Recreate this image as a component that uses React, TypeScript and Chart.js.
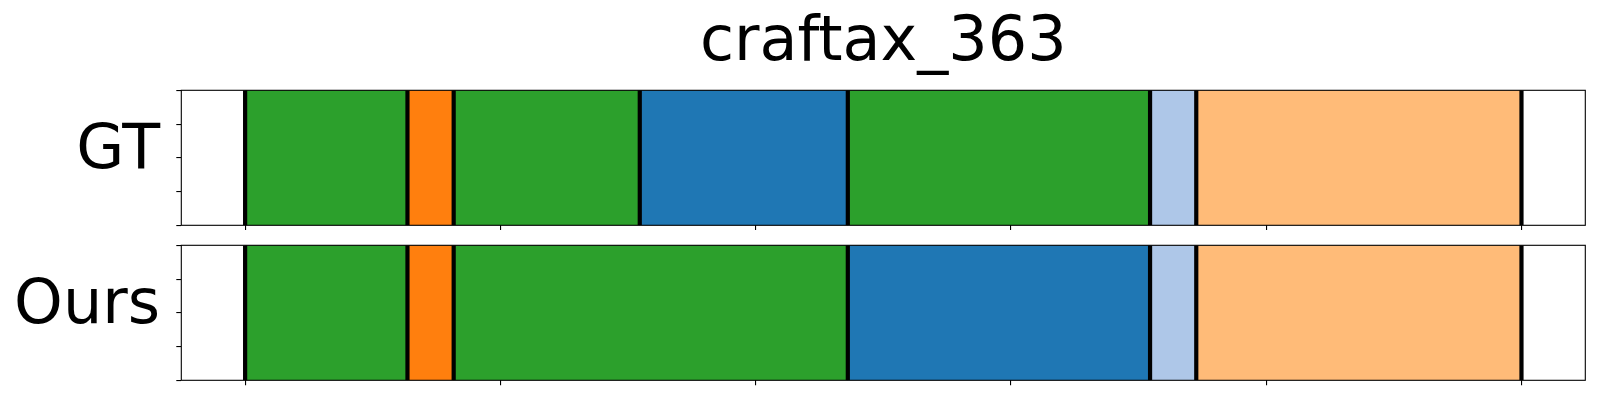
import React, { useEffect, useRef } from 'react';
import { Chart, registerables } from 'chart.js';

Chart.register(...registerables);

// ---- data ----
const TITLE = 'craftax_363';
const ROW_LABELS = ['GT', 'Ours'];
const X_MAX = 500;
const X_TICKS = [0, 100, 200, 300, 400, 500];
const Y_TICKS = [0, 1, 2, 3, 4];

// tab20 palette, indexed by class id
const PALETTE = ['#1f77b4', '#aec7e8', '#ff7f0e', '#ffbb78', '#2ca02c'];

const GT_STARTS = [0, 63.6, 81.7, 154.6, 236.1, 354.5, 372.6];
const GT_ENDS = [63.6, 81.7, 154.6, 236.1, 354.5, 372.6, 500];
const GT_CLASSES = [4, 2, 4, 0, 4, 1, 3];

const OURS_STARTS = [0, 63.6, 81.7, 236.1, 354.5, 372.6];
const OURS_ENDS = [63.6, 81.7, 236.1, 354.5, 372.6, 500];
const OURS_CLASSES = [4, 2, 4, 0, 1, 3];

const FONT = 'DejaVu Sans';
const LEFT = 181.3;

const framePlugin = {
  id: 'frame',
  afterDatasetsDraw(chart: any) {
    const { ctx, chartArea: a } = chart;
    ctx.save();
    ctx.strokeStyle = '#000';
    ctx.lineWidth = 1.1;
    ctx.strokeRect(a.left, a.top, a.right - a.left, a.bottom - a.top);
    ctx.restore();
  },
};

function makeConfig(
  label: string,
  starts: number[],
  ends: number[],
  classes: number[],
  opts: { title: boolean; padTop: number; xHeight: number }
): any {
  const margin = X_MAX * 0.05;
  const yMin = Y_TICKS[0];
  const yMax = Y_TICKS[Y_TICKS.length - 1];
  const boundaries = Array.from(new Set([...starts, ...ends]));
  const tickGrid = {
    display: true,
    drawOnChartArea: false,
    drawTicks: true,
    tickLength: 5,
    color: '#000',
    lineWidth: 1.1,
    offset: false,
  };
  return {
    type: 'bar',
    data: {
      labels: [label],
      datasets: [
        ...boundaries.map((b) => ({
          type: 'line',
          indexAxis: 'x',
          xAxisID: 'x',
          yAxisID: 'yt',
          data: [
            { x: b, y: yMin },
            { x: b, y: yMax },
          ],
          borderColor: '#000',
          borderWidth: 4.2,
          pointRadius: 0,
          fill: false,
          order: 0,
        })),
        {
          type: 'bar',
          xAxisID: 'x',
          yAxisID: 'y',
          data: starts.map((s, i) => ({ x: [s, ends[i]], y: label })),
          backgroundColor: classes.map((c) => PALETTE[c]),
          borderWidth: 0,
          barPercentage: 1,
          categoryPercentage: 1,
          grouped: false,
          order: 1,
        },
      ],
    },
    options: {
      indexAxis: 'y',
      animation: false,
      responsive: false,
      events: [],
      layout: { padding: { left: 0, right: 14.7, top: opts.padTop, bottom: 0 } },
      plugins: {
        legend: { display: false },
        tooltip: { enabled: false },
        title: {
          display: opts.title,
          text: TITLE,
          fullSize: false,
          color: '#000',
          font: { family: FONT, size: 62, weight: 'normal', lineHeight: 1.2 },
          padding: { top: 7, bottom: 8.9 },
        },
      },
      scales: {
        x: {
          type: 'linear',
          min: -margin,
          max: X_MAX + margin,
          offset: false,
          afterBuildTicks: (s: any) => {
            s.ticks = X_TICKS.map((v) => ({ value: v }));
          },
          ticks: { display: false },
          grid: tickGrid,
          border: { display: false },
          afterFit: (s: any) => {
            s.height = opts.xHeight;
          },
        },
        y: {
          type: 'category',
          position: 'left',
          weight: 1,
          offset: true,
          ticks: {
            color: '#000',
            font: { family: FONT, size: 62 },
            padding: 16.3,
            labelOffset: -6,
            autoSkip: false,
          },
          grid: { display: false, drawTicks: false },
          border: { display: false },
          afterFit: (s: any) => {
            s.width = LEFT - 5;
            s.paddingTop = 0;
            s.paddingBottom = 0;
          },
        },
        yt: {
          type: 'linear',
          axis: 'y',
          position: 'left',
          weight: 0,
          display: true,
          min: yMin,
          max: yMax,
          offset: false,
          afterBuildTicks: (s: any) => {
            s.ticks = Y_TICKS.map((v) => ({ value: v }));
          },
          ticks: { display: false },
          grid: tickGrid,
          border: { display: false },
          afterFit: (s: any) => {
            s.width = 5;
            s.paddingTop = 0;
            s.paddingBottom = 0;
          },
        },
      },
    },
    plugins: [framePlugin],
  };
}

function Panel(props: { top: number; height: number; config: any }) {
  const ref = useRef<HTMLCanvasElement | null>(null);
  useEffect(() => {
    if (!ref.current) return;
    const chart = new Chart(ref.current, props.config);
    return () => chart.destroy();
  }, []);
  return (
    <canvas
      ref={ref}
      width={1600}
      height={props.height}
      style={{
        position: 'absolute',
        left: 0,
        top: props.top,
        width: 1600,
        height: props.height,
        display: 'block',
      }}
    />
  );
}

export default function App() {
  const gt = makeConfig(ROW_LABELS[0], GT_STARTS, GT_ENDS, GT_CLASSES, {
    title: true,
    padTop: 0,
    xHeight: 4.7,
  });
  const ours = makeConfig(ROW_LABELS[1], OURS_STARTS, OURS_ENDS, OURS_CLASSES, {
    title: false,
    padTop: 15.3,
    xHeight: 19.7,
  });
  return (
    <div
      style={{
        position: 'absolute',
        left: 0,
        top: 0,
        width: 1600,
        height: 400,
        background: '#fff',
      }}
    >
      <Panel top={0} height={230} config={gt} />
      <Panel top={230} height={170} config={ours} />
    </div>
  );
}
